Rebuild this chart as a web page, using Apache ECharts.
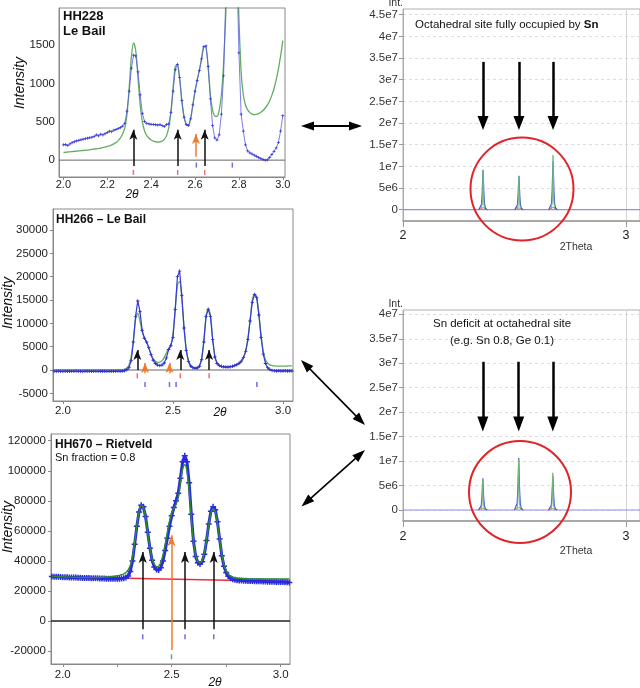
<!DOCTYPE html>
<html><head><meta charset="utf-8">
<script src="https://cdn.jsdelivr.net/npm/echarts@6/dist/echarts.min.js"></script>
<style>html,body{margin:0;padding:0;background:#fff}#c{width:640px;height:688px}</style>
</head><body><div id="c"></div>
<script>
// ---------- Panel 1: HH228 Le Bail (2θ from 2.00, step 0.01) ----------
const p1Start = 2.00, p1Step = 0.01;
const obs1 = [
 200,205,192,212,228,240,250,258,266,274,
 280,286,292,300,308,330,318,338,328,345,
 360,378,372,390,400,412,425,445,480,640,
 900,1200,1370,1360,1150,850,610,505,480,472,
 468,465,462,458,462,450,440,465,470,620,
 900,1180,1250,1080,780,560,465,452,540,720,
 900,1040,1170,1320,1480,1490,1220,800,450,290,
 262,330,600,1100,2100,2900,3000,3000,3000,2600,
 1400,600,380,200,120,95,80,65,50,35,
 20,8,0,5,35,75,115,160,230,380,
 580];
const calc1 = [
 100,103,106,109,112,115,117,120,123,126,
 129,132,136,140,144,148,153,158,164,171,
 178,187,198,212,230,255,290,340,420,600,
 950,1350,1530,1420,1080,720,500,380,320,285,
 262,248,240,236,238,248,270,320,420,620,
 950,1220,1250,1050,760,560,460,450,540,720,
 900,1050,1180,1330,1480,1470,1200,850,650,575,
 570,650,850,1250,1900,2700,4500,6000,4500,2800,
 1850,1150,850,720,655,620,600,595,598,608,
 625,648,680,720,775,845,935,1050,1190,1360,
 1560];
const refl1Main = [2.319, 2.521, 2.644];
const refl1Second = [2.606, 2.770];
const arrows1Black = [2.319, 2.521, 2.644];
const arrows1Orange = [2.604];
const xTicks1 = [2.0, 2.2, 2.4, 2.6, 2.8, 3.0];
const yTicks1 = [0, 500, 1000, 1500];

// ---------- Panel 2: HH266 Le Bail (2θ from 1.96, step 0.01) ----------
const p2Start = 1.96, p2Step = 0.01;
const obs2 = [
 -250,-280,-230,-260,-300,-250,-270,-240,-290,-260,
 -230,-280,-250,-300,-260,-240,-280,-270,-250,-290,
 -260,-240,-270,-250,-280,-260,-240,-270,-250,-230,
 -260,-220,-150,50,500,2000,6000,11500,14800,12500,
 8500,6800,6000,4800,3300,2100,1400,1050,950,1050,
 1500,2600,4400,5200,7000,13000,20000,21200,16000,9000,
 4200,1800,850,500,380,420,800,2200,6000,11500,
 13000,11500,6500,2800,1400,950,780,700,650,650,
 700,800,950,1150,1450,1900,2700,4000,6500,10500,
 14500,16200,15500,11800,7000,3400,1400,500,100,-100,
 -150,-200,-170,-220,-200,-180,-230,-200,-210];
const calc2 = [
 0,0,0,0,0,0,0,0,0,0,
 0,0,0,0,0,0,0,0,0,0,
 0,0,0,0,0,0,0,0,0,0,
 0,80,200,450,1100,2800,6500,10800,12200,10500,
 8200,6900,6000,4800,3400,2400,1850,1650,1700,2000,
 2700,3700,4600,5300,7800,12800,18200,19000,15200,9200,
 4500,2100,1050,650,500,550,950,2400,6300,11300,
 13200,11800,6800,3000,1500,950,720,620,600,610,
 660,760,900,1100,1400,1850,2650,4000,6600,10700,
 14900,16300,15700,12100,7500,4000,2200,1450,1100,950,
 870,830,820,820,830,840,860,880,900];
const refl2Main = [2.338, 2.533, 2.664];
const refl2Second = [2.373, 2.484, 2.514, 2.881];
const arrows2Black = [2.338, 2.533, 2.664];
const arrows2Orange = [2.373, 2.484];
const xTicks2 = [2.0, 2.5, 3.0];
const yTicks2 = [-5000, 0, 5000, 10000, 15000, 20000, 25000, 30000];

// ---------- Panel 3: HH670 Rietveld (2θ from 1.95, step 0.01) ----------
const p3Start = 1.95, p3Step = 0.01;
const obs3 = [
 29600,29500,29400,29400,29300,29200,29200,29100,29000,29000,
 28900,28900,28800,28800,28700,28700,28600,28600,28500,28500,
 28400,28400,28300,28300,28300,28200,28200,28200,28100,28100,
 28100,28200,28300,28500,29000,30000,33000,40000,51000,63000,
 72500,77000,76000,69500,59000,48500,40500,36000,34200,34000,
 35500,40000,47000,55000,63000,70000,75500,80000,85000,95000,
 106000,110000,106000,92000,71000,53000,43000,38800,38000,39500,
 44500,53500,64500,73000,76000,74000,66000,54500,43500,36500,
 32200,29800,28500,27800,27400,27200,27000,26900,26800,26800,
 26700,26600,26600,26500,26500,26400,26400,26300,26300,26200,
 26200,26100,26100,26000,26000,25900,25900,25800,25800,25700];
const calc3 = [
 29800,29700,29600,29500,29500,29400,29300,29300,29200,29200,
 29100,29100,29000,29000,29000,28900,28900,28900,28900,28900,
 28900,29000,29000,29100,29200,29300,29400,29500,29700,29900,
 30100,30400,30800,31400,32300,34000,37000,43000,52500,63500,
 72500,77000,75500,68500,58000,48500,41500,37800,36200,36500,
 39000,44000,51000,59000,66500,72000,75000,77500,82000,91500,
 101000,104000,100000,87000,68500,52500,43500,39500,38800,40500,
 45500,54000,64000,72000,74500,72500,65000,54500,44500,37500,
 33500,31200,29900,29100,28700,28400,28300,28200,28100,28100,
 28000,28000,28000,28000,28000,28000,28000,28000,28000,28000,
 28000,28000,28000,28000,28000,28000,28000,28000,28000,28000];
const bg3 = [[1.946, 29500], [3.043, 26300]];
const refl3Main = [2.367, 2.561, 2.693];
const refl3Second = [2.499];
const arrows3Black = [2.367, 2.561, 2.693];
const arrows3Orange = [2.499];
const xTicks3 = [2.0, 2.5, 3.0];
const xMinor3 = [2.0, 2.25, 2.5, 2.75, 3.0];
const yTicks3 = [-20000, 0, 20000, 40000, 60000, 80000, 100000, 120000];

// ---------- Panel 4: simulation, Sn fully occupied ----------
const sim4Blue = [
 [2.340,0],[2.348,0.3e6],[2.352,1.2e6],[2.355,3.5e6],[2.357,6.5e6],[2.359,9.2e6],[2.361,6.5e6],[2.363,3.5e6],[2.366,1.2e6],[2.370,0.3e6],[2.378,0],[2.45,null],
 [2.501,0],[2.509,0.3e6],[2.513,1.0e6],[2.516,3.0e6],[2.518,5.5e6],[2.520,7.8e6],[2.522,5.5e6],[2.524,3.0e6],[2.527,1.0e6],[2.531,0.3e6],[2.539,0],[2.6,null],
 [2.654,0],[2.662,0.4e6],[2.666,1.4e6],[2.669,4.2e6],[2.671,8.0e6],[2.673,11.1e6],[2.675,8.0e6],[2.677,4.2e6],[2.680,1.4e6],[2.684,0.4e6],[2.692,0]];
const sim4Green = [
 [2.351,0],[2.355,1.2e6],[2.357,4e6],[2.359,9.0e6],[2.361,4e6],[2.363,1.2e6],[2.367,0],[2.45,null],
 [2.512,0],[2.516,1.0e6],[2.518,3.5e6],[2.520,7.6e6],[2.522,3.5e6],[2.524,1.0e6],[2.528,0],[2.6,null],
 [2.665,0],[2.669,1.6e6],[2.671,5e6],[2.673,12.6e6],[2.675,5e6],[2.677,1.6e6],[2.681,0]];
const sim4Red = [
 [2.338,0],[2.348,0.25e6],[2.359,0.45e6],[2.370,0.25e6],[2.380,0],[2.45,null],
 [2.499,0],[2.509,0.2e6],[2.520,0.4e6],[2.531,0.2e6],[2.541,0],[2.6,null],
 [2.652,0],[2.662,0.3e6],[2.673,0.5e6],[2.684,0.3e6],[2.694,0]];
const arrows4 = [2.359, 2.520, 2.673];

// ---------- Panel 5: simulation, Sn deficit ----------
const sim5Blue = [
 [2.339,0],[2.347,0.25e6],[2.351,0.9e6],[2.354,2.5e6],[2.356,4.6e6],[2.358,6.5e6],[2.360,4.6e6],[2.362,2.5e6],[2.365,0.9e6],[2.369,0.25e6],[2.377,0],[2.45,null],
 [2.500,0],[2.508,0.4e6],[2.512,1.4e6],[2.515,4.0e6],[2.517,7.3e6],[2.519,10.6e6],[2.521,7.3e6],[2.523,4.0e6],[2.526,1.4e6],[2.530,0.4e6],[2.538,0],[2.6,null],
 [2.653,0],[2.661,0.25e6],[2.665,0.9e6],[2.668,2.7e6],[2.670,5.0e6],[2.672,6.95e6],[2.674,5.0e6],[2.676,2.7e6],[2.679,0.9e6],[2.683,0.25e6],[2.691,0]];
const sim5Green = [
 [2.350,0],[2.354,0.9e6],[2.356,2.8e6],[2.358,6.3e6],[2.360,2.8e6],[2.362,0.9e6],[2.366,0],[2.45,null],
 [2.511,0],[2.515,1.4e6],[2.517,4.6e6],[2.519,10.3e6],[2.521,4.6e6],[2.523,1.4e6],[2.527,0],[2.6,null],
 [2.664,0],[2.668,1.0e6],[2.670,3.2e6],[2.672,7.6e6],[2.674,3.2e6],[2.676,1.0e6],[2.680,0]];
const sim5Red = [
 [2.337,0],[2.347,0.2e6],[2.358,0.35e6],[2.369,0.2e6],[2.379,0],[2.45,null],
 [2.498,0],[2.508,0.3e6],[2.519,0.5e6],[2.530,0.3e6],[2.540,0],[2.6,null],
 [2.651,0],[2.661,0.2e6],[2.672,0.35e6],[2.683,0.2e6],[2.693,0]];
const arrows5 = [2.358, 2.519, 2.672];

const simYTicks4 = [0,5e6,1e7,1.5e7,2e7,2.5e7,3e7,3.5e7,4e7,4.5e7];
const simYLabels4 = ['0','5e6','1e7','1.5e7','2e7','2.5e7','3e7','3.5e7','4e7','4.5e7'];
const simYTicks5 = [0,5e6,1e7,1.5e7,2e7,2.5e7,3e7,3.5e7,4e7];
const simYLabels5 = ['0','5e6','1e7','1.5e7','2e7','2.5e7','3e7','3.5e7','4e7'];

// ---------- build ----------
const FONT = "'Liberation Sans', Arial, sans-serif";
function pairs(start, step, arr){ return arr.map((v,i)=>[+(start+i*step).toFixed(4), v]); }
const crossSym = 'path://M0,3h8v2h-8z M3,0h2v8h-2z';

function arrowLines(xs, y0, y1, color, w){
  return xs.map(x => [{coord:[x,y0], lineStyle:{color:color, width:w, type:'solid'}}, {coord:[x,y1]}]);
}
function leftAxesX(idx, min, max, labels, ticks, margin, fs){
  return {gridIndex:idx, type:'value', min:min, max:max,
    axisLine:{show:true, onZero:false, lineStyle:{color:'#888'}},
    axisTick:{show:true, length:3, inside:false, customValues:ticks, lineStyle:{color:'#888'}},
    axisLabel:{customValues:labels, formatter:v=>v.toFixed(1), fontSize:fs, color:'#222', margin:margin, fontFamily:FONT},
    splitLine:{show:false}};
}
function leftAxesY(idx, min, max, labels, margin, tick){
  return {gridIndex:idx, type:'value', min:min, max:max,
    axisLine:{show:true, onZero:false, lineStyle:{color:'#888'}},
    axisTick:{show:tick, length:3, customValues:labels, lineStyle:{color:'#888'}},
    axisLabel:{customValues:labels, formatter:v=>String(v), fontSize:11.5, color:'#222', margin:margin, fontFamily:FONT},
    splitLine:{show:false}};
}
function rightX(idx, margin){
  return {gridIndex:idx, type:'value', min:2, max:3.063, interval:1,
    axisLine:{show:true, onZero:false, lineStyle:{color:'#999', width:1.5}},
    axisTick:{show:true, length:6, lineStyle:{color:'#999'}},
    axisLabel:{fontSize:12.5, color:'#222', margin:margin, fontFamily:FONT, formatter:v=>String(v)},
    splitLine:{show:true, lineStyle:{color:'#d4d4d4', width:1}}};
}
function rightY(idx, min, max, ticks, labels){
  return {gridIndex:idx, type:'value', min:min, max:max,
    axisLine:{show:true, onZero:false, lineStyle:{color:'#aaa'}},
    axisTick:{show:true, length:4, customValues:ticks, lineStyle:{color:'#999'}},
    axisLabel:{customValues:ticks, formatter:v=>labels[ticks.indexOf(v)] ?? String(v), fontSize:11.5, color:'#333', margin:5, fontFamily:FONT},
    splitLine:{show:true, lineStyle:{color:'#dcdcdc', type:[3,3]}}};
}
function reflTicks(idx, xs, y, color, h){
  return {type:'scatter', xAxisIndex:idx, yAxisIndex:idx, data:xs.map(x=>[x,y]),
    symbol:'rect', symbolSize:[1.5,h], itemStyle:{color:color}, silent:true, z:4};
}
const mlBase = {silent:true, symbol:['none','arrow'], label:{show:false}, emphasis:{disabled:true}, animation:false};

const series = [
  // Panel 1
  {type:'line', xAxisIndex:0, yAxisIndex:0, data:[[1.98,0],[3.01,0]], symbol:'none', lineStyle:{color:'#666', width:1}, z:2,
   markLine:Object.assign({}, mlBase, {symbolSize:[6,10], data: arrowLines(arrows1Black,-75,395,'#111',1.5).concat(arrowLines(arrows1Orange,43,340,'#f07a2a',1.5))})},
  {type:'line', xAxisIndex:0, yAxisIndex:0, data:pairs(p1Start,p1Step,calc1), smooth:0.3, symbol:'none', lineStyle:{color:'#62ad62', width:1.3}, z:3},
  {type:'line', xAxisIndex:0, yAxisIndex:0, data:pairs(p1Start,p1Step,obs1), symbol:crossSym, symbolSize:3, itemStyle:{color:'#3838d8'}, lineStyle:{color:'#5a5ae6', width:0.8}, z:4},
  reflTicks(0, refl1Main, -160, '#e05050', 5),
  reflTicks(0, refl1Second, -65, '#4a4ae0', 5),
  // Panel 2
  {type:'line', xAxisIndex:1, yAxisIndex:1, data:[[1.955,0],[3.045,0]], symbol:'none', lineStyle:{color:'#666', width:1}, z:2,
   markLine:Object.assign({}, mlBase, {symbolSize:[6,10], data: arrowLines(arrows2Black,0,4300,'#111',1.5).concat(arrowLines(arrows2Orange,-700,1500,'#f07a2a',1.5))})},
  {type:'line', xAxisIndex:1, yAxisIndex:1, data:pairs(p2Start,p2Step,calc2), smooth:0.3, symbol:'none', lineStyle:{color:'#62ad62', width:1.3}, z:3},
  {type:'line', xAxisIndex:1, yAxisIndex:1, data:pairs(p2Start,p2Step,obs2), symbol:crossSym, symbolSize:3.5, itemStyle:{color:'#3030cc'}, lineStyle:{color:'#3a3ad8', width:1.2}, z:4},
  reflTicks(1, refl2Main, -1250, '#e05050', 5),
  reflTicks(1, refl2Second, -3100, '#4a4ae0', 5),
  // Panel 3
  {type:'line', xAxisIndex:2, yAxisIndex:2, data:[[1.946,0],[3.043,0]], symbol:'none', lineStyle:{color:'#222', width:1.3}, z:2,
   markLine:Object.assign({}, mlBase, {symbolSize:[6,11], data: arrowLines(arrows3Black,-5500,46000,'#111',1.5).concat(arrowLines(arrows3Orange,-19300,57000,'#f07a2a',1.5))})},
  {type:'line', xAxisIndex:2, yAxisIndex:2, data:bg3, symbol:'none', lineStyle:{color:'#e8303a', width:1.5}, z:3},
  {type:'line', xAxisIndex:2, yAxisIndex:2, data:pairs(p3Start,p3Step,obs3), symbol:crossSym, symbolSize:6, itemStyle:{color:'#2a2ae0'}, lineStyle:{color:'#2a2ae0', width:3}, z:4},
  {type:'line', xAxisIndex:2, yAxisIndex:2, data:pairs(p3Start,p3Step,calc3), smooth:0.3, symbol:'none', lineStyle:{color:'#2e8a2e', width:1.4}, z:5},
  reflTicks(2, refl3Main, -10500, '#4a4ae0', 5),
  reflTicks(2, refl3Second, -23800, '#3a9a3a', 5),
  // Panel 4
  {type:'line', xAxisIndex:3, yAxisIndex:3, data:[[2,0],[3.063,0]], symbol:'none', lineStyle:{color:'#8f8ff0', width:1.2}, z:2,
   markLine:Object.assign({}, mlBase, {symbol:['none','triangle'], symbolSize:[11,14], data: arrowLines(arrows4,3.41e7,2.0e7,'#000',2.5)})},
  {type:'line', xAxisIndex:3, yAxisIndex:3, data:sim4Red, symbol:'none', connectNulls:false, lineStyle:{color:'#e8704a', width:1}, z:3},
  {type:'line', xAxisIndex:3, yAxisIndex:3, data:sim4Blue, symbol:'none', connectNulls:false, lineStyle:{color:'#3a56d8', width:1.2}, z:4},
  {type:'line', xAxisIndex:3, yAxisIndex:3, data:sim4Green, symbol:'none', connectNulls:false, lineStyle:{color:'#7ab87a', width:1}, z:5},
  // Panel 5
  {type:'line', xAxisIndex:4, yAxisIndex:4, data:[[2,0],[3.063,0]], symbol:'none', lineStyle:{color:'#8f8ff0', width:1.2}, z:2,
   markLine:Object.assign({}, mlBase, {symbol:['none','triangle'], symbolSize:[11,15], data: arrowLines(arrows5,3.03e7,1.76e7,'#000',2.5)})},
  {type:'line', xAxisIndex:4, yAxisIndex:4, data:sim5Red, symbol:'none', connectNulls:false, lineStyle:{color:'#e8904a', width:1}, z:3},
  {type:'line', xAxisIndex:4, yAxisIndex:4, data:sim5Blue, symbol:'none', connectNulls:false, lineStyle:{color:'#3a56d8', width:1.2}, z:4},
  {type:'line', xAxisIndex:4, yAxisIndex:4, data:sim5Green, symbol:'none', connectNulls:false, lineStyle:{color:'#7ab87a', width:1}, z:5}
];

function txt(x,y,text,font,opts){
  return Object.assign({type:'text', x:x, y:y, z:50, silent:true,
    style:Object.assign({text:text, font:font, fill:'#111', align:'left', verticalAlign:'middle'}, opts||{})});
}
function dblArrow(x1,y1,x2,y2,head,w,lw){
  const dx=x2-x1, dy=y2-y1, L=Math.hypot(dx,dy), ux=dx/L, uy=dy/L, px=-uy, py=ux;
  const els=[];
  els.push({type:'line', z:60, silent:true, shape:{x1:x1+ux*head*0.8, y1:y1+uy*head*0.8, x2:x2-ux*head*0.8, y2:y2-uy*head*0.8}, style:{stroke:'#000', lineWidth:lw}});
  const tri=(tx,ty,sx,sy)=>({type:'polygon', z:60, silent:true, shape:{points:[[tx,ty],[tx-sx*head+px*w/2, ty-sy*head+py*w/2],[tx-sx*head-px*w/2, ty-sy*head-py*w/2]]}, style:{fill:'#000'}});
  els.push(tri(x2,y2,ux,uy));
  els.push(tri(x1,y1,-ux,-uy));
  return els;
}

const graphic = [
  txt(63,16.5,'HH228','bold 13px '+FONT),
  txt(63,31.5,'Le Bail','bold 13px '+FONT),
  txt(56,220,'HH266 \u2013 Le Bail','bold 12px '+FONT),
  txt(55,445,'HH670 \u2013 Rietveld','bold 12px '+FONT),
  txt(55,457.5,'Sn fraction = 0.8','11px '+FONT),
  Object.assign(txt(20,83,'Intensity','italic 14px '+FONT,{align:'center'}),{rotation:Math.PI/2}),
  Object.assign(txt(8,303,'Intensity','italic 14px '+FONT,{align:'center'}),{rotation:Math.PI/2}),
  Object.assign(txt(8,527,'Intensity','italic 14px '+FONT,{align:'center'}),{rotation:Math.PI/2}),
  txt(132,195,'2\u03b8','italic 12px '+FONT,{align:'center'}),
  txt(220,413,'2\u03b8','italic 12px '+FONT,{align:'center'}),
  txt(215,683,'2\u03b8','italic 12px '+FONT,{align:'center'}),
  txt(403,3.5,'Int.','10.5px '+FONT,{align:'right', fill:'#333'}),
  txt(403,304.5,'Int.','10.5px '+FONT,{align:'right', fill:'#333'}),
  txt(576,247,'2Theta','10.5px '+FONT,{align:'center', fill:'#333'}),
  txt(576,551,'2Theta','10.5px '+FONT,{align:'center', fill:'#333'}),
  {type:'text', x:415, y:25, z:50, silent:true, style:{text:'Octahedral site fully occupied by {b|Sn}', font:'11.5px '+FONT, fill:'#111', verticalAlign:'middle', rich:{b:{fontWeight:'bold', fontSize:11.5, fontFamily:FONT}}}},
  txt(502,324,'Sn deficit at octahedral site','11.5px '+FONT,{align:'center'}),
  txt(502,340.5,'(e.g. Sn 0.8, Ge 0.1)','11.5px '+FONT,{align:'center'}),
  {type:'circle', z:70, silent:true, shape:{cx:522, cy:189, r:51.5}, style:{fill:null, stroke:'#e0242a', lineWidth:2}},
  {type:'circle', z:70, silent:true, shape:{cx:520, cy:492, r:51}, style:{fill:null, stroke:'#e0242a', lineWidth:2}}
].concat(dblArrow(301,126,362,126,13,9,2))
 .concat(dblArrow(301,360,365,425,13,9,1.6))
 .concat(dblArrow(365,450,301.5,506.5,13,9,1.6));

const chart = echarts.init(document.getElementById('c'), null, {renderer:'canvas'});
chart.setOption({
  animation:false,
  backgroundColor:'#fff',
  textStyle:{fontFamily:FONT},
  grid:[
    {left:59, top:8, width:226, height:169, show:true, borderColor:'#8a8a8a', borderWidth:1},
    {left:53, top:209, width:240, height:192, show:true, borderColor:'#8a8a8a', borderWidth:1},
    {left:51, top:434, width:239, height:230, show:true, borderColor:'#8a8a8a', borderWidth:1},
    {left:403, top:9, width:240, height:212, show:true, borderColor:'#b0b0b0', borderWidth:1},
    {left:403, top:310, width:240, height:211, show:true, borderColor:'#b0b0b0', borderWidth:1}
  ],
  xAxis:[
    leftAxesX(0, 1.98, 3.01, xTicks1, xTicks1, 2, 11),
    leftAxesX(1, 1.955, 3.045, xTicks2, xTicks2, 4, 11.5),
    leftAxesX(2, 1.946, 3.043, xTicks3, xMinor3, 5, 11.5),
    rightX(3, 8),
    rightX(4, 9)
  ],
  yAxis:[
    leftAxesY(0, -220, 1985, yTicks1, 4, false),
    leftAxesY(1, -6640, 34500, yTicks2, 5, true),
    leftAxesY(2, -28620, 124460, yTicks3, 5, true),
    rightY(3, -2.61e6, 4.631e7, simYTicks4, simYLabels4),
    rightY(4, -2.25e6, 4.088e7, simYTicks5, simYLabels5)
  ],
  series: series,
  graphic: graphic
});
</script></body></html>
